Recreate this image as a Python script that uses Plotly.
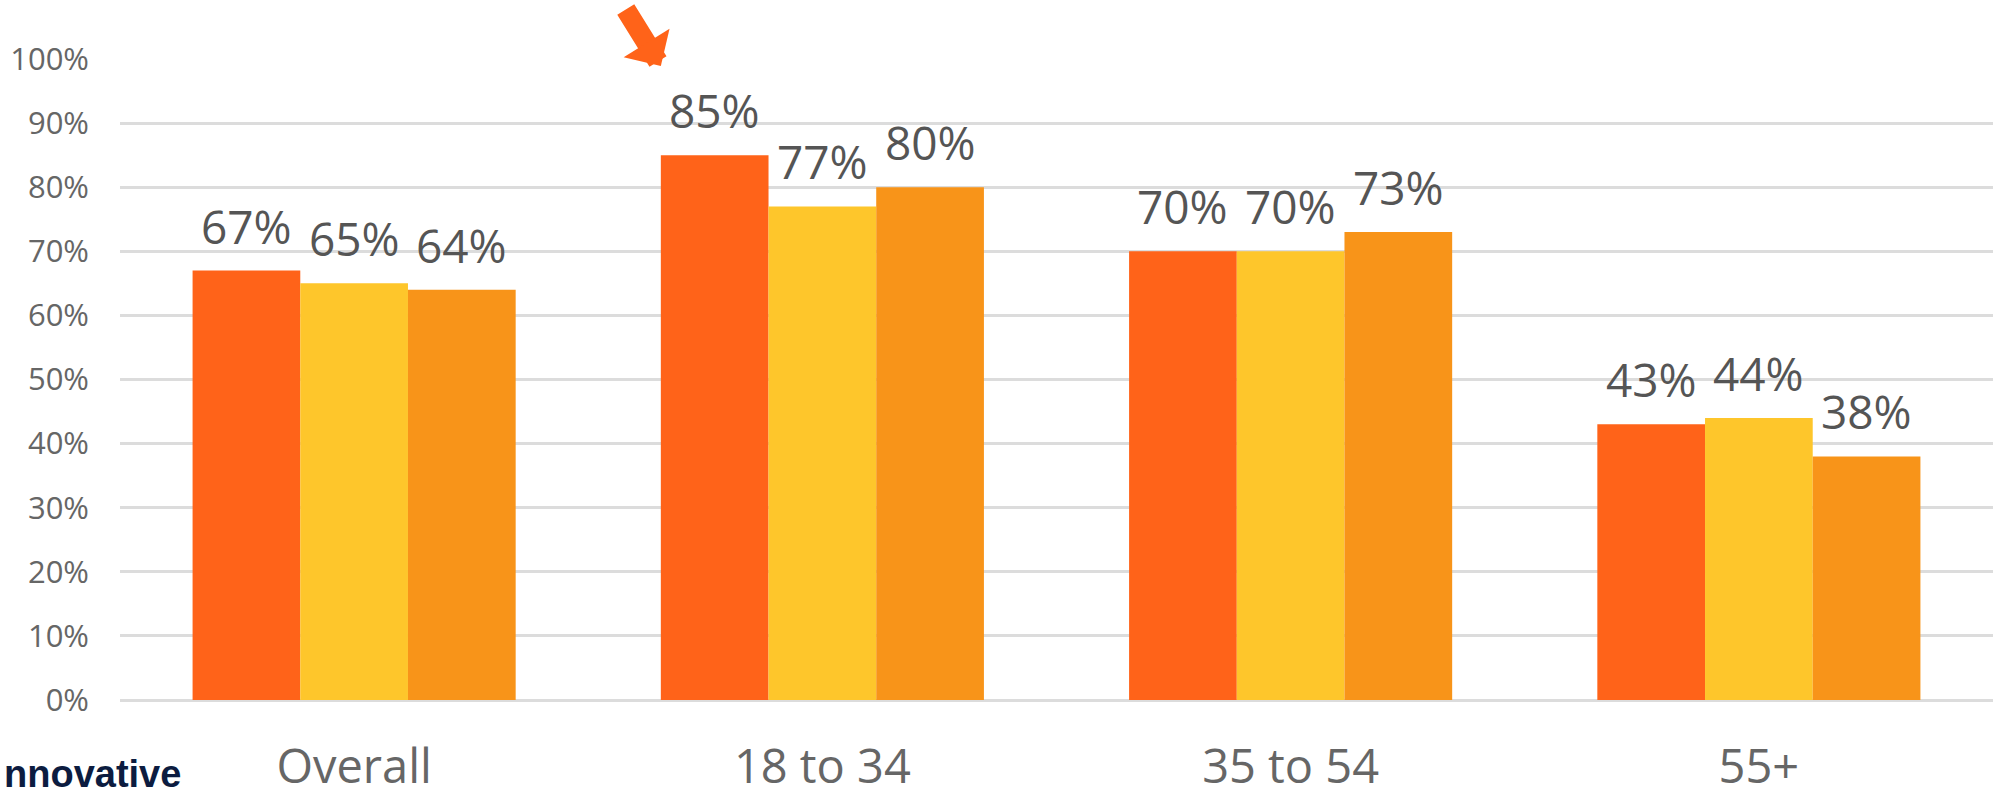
import plotly.graph_objects as go

# Survey share by age group, three series per group
categories = ["Overall", "18 to 34", "35 to 54", "55+"]
series_a = [67, 85, 70, 43]
series_b = [65, 77, 70, 44]
series_c = [64, 80, 73, 38]
series_colors = ["#FF6319", "#FEC62B", "#F89419"]
y_ticks = [0, 10, 20, 30, 40, 50, 60, 70, 80, 90, 100]
y_tick_labels = [f"{v}%" for v in y_ticks]

W, H = 1996, 796
M_L, M_R, M_T, M_B = 120, 3, 59, 96
BARGAP = 0.31

FONT = "Open Sans, Lato, Noto Sans, sans-serif"
all_series = [series_a, series_b, series_c]

fig = go.Figure()
for vals, col in zip(all_series, series_colors):
    fig.add_trace(go.Bar(
        x=categories, y=vals, marker=dict(color=col, line=dict(width=0)),
        hoverinfo="skip", showlegend=False, cliponaxis=False,
    ))

# value labels above each bar, positioned from the bar's own value
bar_w = (1 - BARGAP) / len(all_series)
annotations = []
for k, vals in enumerate(all_series):
    off = (k - (len(all_series) - 1) / 2) * bar_w
    for i, v in enumerate(vals):
        annotations.append(dict(
            x=i + off, y=v, xref="x", yref="y", text=f"{v}%",
            showarrow=False, xanchor="center", yanchor="bottom", yshift=12,
            font=dict(family=FONT, size=46, color="#555555"),
        ))

# pointer highlighting the youngest group
annotations.append(dict(
    x=1 - bar_w * 1.5, y=98.9, xref="x", yref="y", text="",
    showarrow=True, arrowhead=1, arrowsize=0.45, arrowwidth=20,
    arrowcolor="#FF6319", ax=-36, ay=-58, standoff=0,
))

# brand wordmark in the lower-left corner
plot_w = W - M_L - M_R
plot_h = H - M_T - M_B
annotations.append(dict(
    x=(2 - M_L) / plot_w, y=-M_B / plot_h, xref="paper", yref="paper",
    text="<b>nnovative</b>", showarrow=False, xanchor="left", yanchor="bottom",
    yshift=-1, font=dict(family="Liberation Sans, Arial, sans-serif", size=38, color="#0C1C40"),
))

fig.update_layout(
    width=W, height=H,
    margin=dict(l=M_L, r=M_R, t=M_T, b=M_B, pad=0),
    barmode="group", bargap=BARGAP, bargroupgap=0,
    plot_bgcolor="white", paper_bgcolor="white",
    annotations=annotations,
    xaxis=dict(
        range=[-0.5, 3.5], showgrid=False, zeroline=False, showline=False,
        ticks="", ticklabelstandoff=35, automargin=False,
        tickfont=dict(family=FONT, size=47, color="#666666"),
    ),
    yaxis=dict(
        range=[0, 100], tickvals=y_ticks, ticktext=y_tick_labels,
        showgrid=True, gridcolor="#DCDCDC", gridwidth=3,
        zeroline=True, zerolinecolor="#DCDCDC", zerolinewidth=3,
        showline=False, ticks="", ticklabelstandoff=30, automargin=False,
        tickfont=dict(family=FONT, size=31, color="#666666"),
    ),
)

fig.write_html("out.html")
